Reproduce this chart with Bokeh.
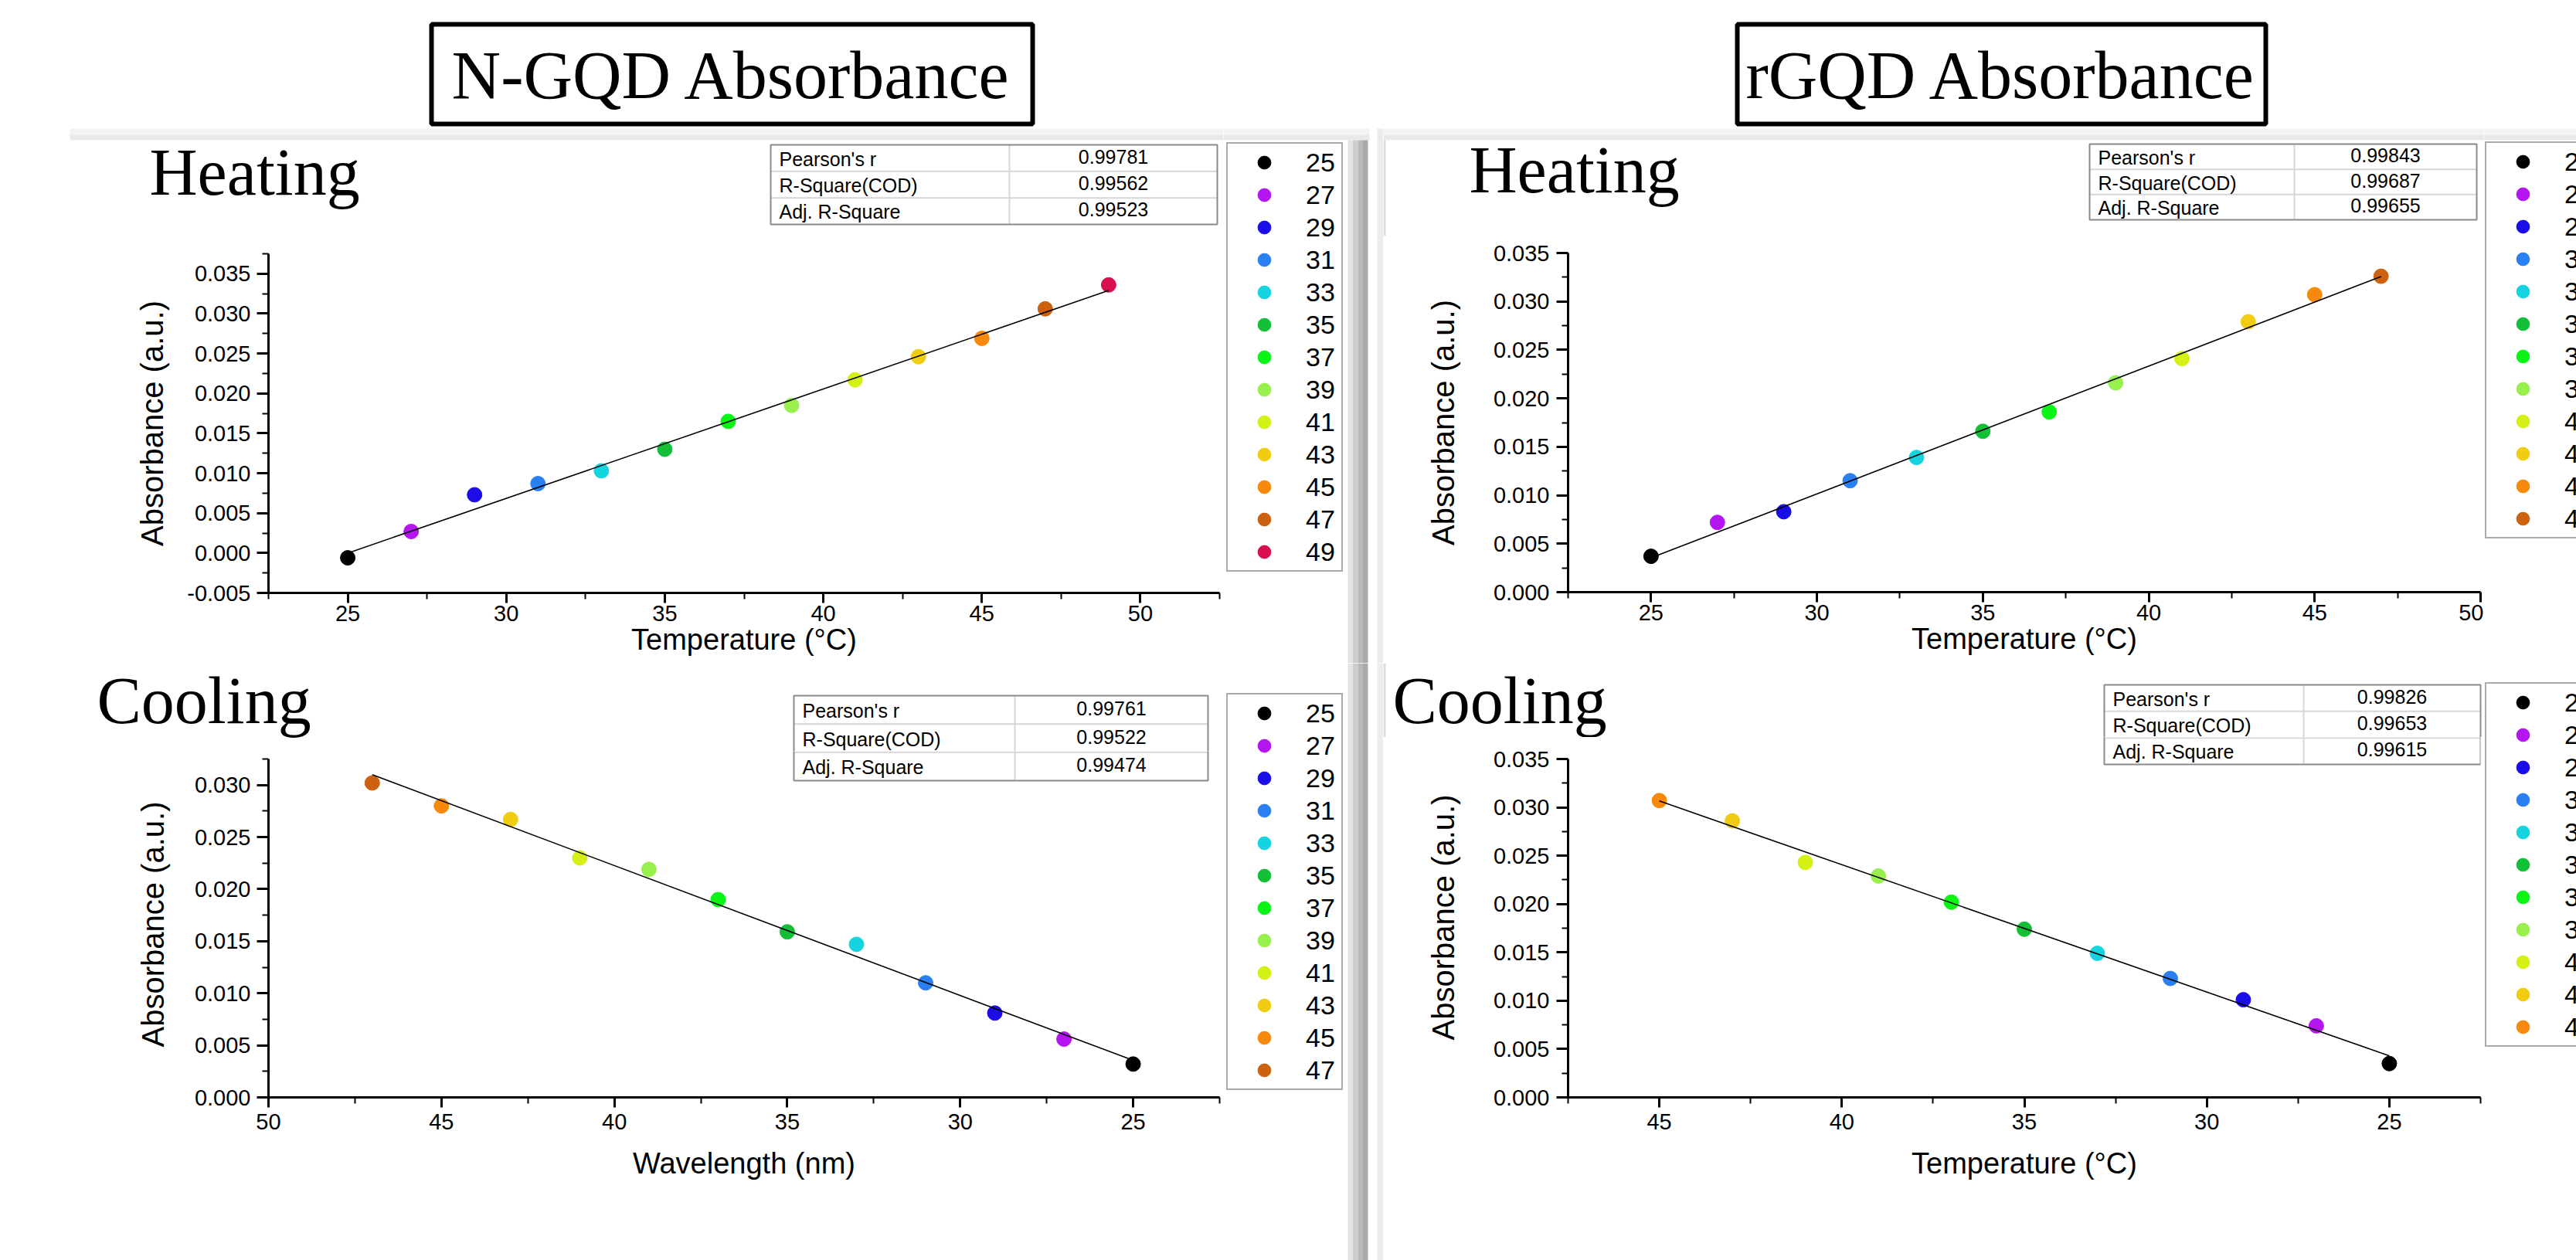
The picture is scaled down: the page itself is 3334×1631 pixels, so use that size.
import numpy as np
from bokeh.plotting import figure
from bokeh.models import (FixedTicker, PrintfTickFormatter, Legend, LegendItem,
                          BoxAnnotation, Label, Range1d, ColumnDataSource)
from bokeh.layouts import row, column
from bokeh.embed import file_html
from bokeh.resources import INLINE

# ---------------- data ----------------
ngqd_heat_temp = [25, 27, 29, 31, 33, 35, 37, 39, 41, 43, 45, 47, 49]
ngqd_heat_abs = [-0.0006, 0.0027, 0.0073, 0.0087, 0.0103, 0.0130, 0.0165,
                 0.0185, 0.0217, 0.0246, 0.0269, 0.0306, 0.0336]

ngqd_cool_temp = [25, 27, 29, 31, 33, 35, 37, 39, 41, 43, 45, 47]
ngqd_cool_abs = [0.0032, 0.0056, 0.0081, 0.0110, 0.0147, 0.0159, 0.0190,
                 0.0219, 0.0230, 0.0267, 0.0280, 0.0302]

rgqd_heat_temp = [25, 27, 29, 31, 33, 35, 37, 39, 41, 43, 45, 47]
rgqd_heat_abs = [0.0037, 0.0072, 0.0083, 0.0115, 0.0139, 0.0166, 0.0186,
                 0.0216, 0.0241, 0.0279, 0.0307, 0.0326]

rgqd_cool_temp = [25, 27, 29, 31, 33, 35, 37, 39, 41, 43, 45]
rgqd_cool_abs = [0.0035, 0.0074, 0.0101, 0.0123, 0.0149, 0.0174, 0.0202,
                 0.0229, 0.0243, 0.0286, 0.0307]

stat_names = ["Pearson's r", "R-Square(COD)", "Adj. R-Square"]
ngqd_heat_stats = ["0.99781", "0.99562", "0.99523"]
ngqd_cool_stats = ["0.99761", "0.99522", "0.99474"]
rgqd_heat_stats = ["0.99843", "0.99687", "0.99655"]
rgqd_cool_stats = ["0.99826", "0.99653", "0.99615"]

temp_colors = {25: "#000000", 27: "#b515f0", 29: "#1a0de8", 31: "#2a80f2",
               33: "#14d4e0", 35: "#14bf38", 37: "#0af516", 39: "#97f04c",
               41: "#d5f015", 43: "#f0cc12", 45: "#f7890d", 47: "#cc620f",
               49: "#d8104e"}

SANS = "Liberation Sans"
SERIF = "Liberation Serif"


def ticks(a, b, step):
    n = int(round((b - a) / step))
    return [round(a + i * step, 6) for i in range(n + 1)]


class Painter:
    """Places annotations at page-pixel positions, in screen units relative
    to the figure's frame (bottom-left corner at page (fl, fb))."""

    def __init__(self, p, fl, fb):
        self.p, self.fl, self.fb = p, fl, fb

    def X(self, x):
        return x - self.fl

    def Y(self, y):
        return self.fb - y

    def box(self, x0, y0, x1, y1, fill="white", line=None, lw=0, level="annotation"):
        self.p.add_layout(BoxAnnotation(
            left=self.X(x0), right=self.X(x1), top=self.Y(y0), bottom=self.Y(y1),
            left_units="screen", right_units="screen",
            top_units="screen", bottom_units="screen",
            fill_color=fill if fill else "white", fill_alpha=1 if fill else 0,
            line_color=line if line else "black", line_alpha=1 if line else 0,
            line_width=lw, level=level))

    def text(self, x, ymid, s, font, size, align="left"):
        self.p.add_layout(Label(
            x=self.X(x), y=self.Y(ymid), x_units="screen", y_units="screen",
            text=s, text_font=font, text_font_size=size, text_color="black",
            text_align=align, text_baseline="middle"))


def canvas_fig(x0, y0, x1, y1):
    p = figure(width=x1 - x0, height=y1 - y0, x_range=Range1d(0, 1),
               y_range=Range1d(0, 1), x_axis_type=None, y_axis_type=None,
               toolbar_location=None, output_backend="svg", min_border=0)
    p.frame_align = False
    p.outline_line_color = None
    p.background_fill_color = "white"
    p.border_fill_color = "white"
    return p, Painter(p, x0, y1)


def draw_table(pt, table, stats, text_rows=(0, 1, 2)):
    tx0, ty0, tx1, ty1, tsplit = table
    pt.box(tx0, ty0, tx1, ty1, fill="white")
    rh = (ty1 - ty0) / 3.0
    for i in (1, 2):
        yy = ty0 + i * rh
        pt.box(tx0, yy - 1, tx1, yy + 1, fill="#d6d6d6")
    pt.box(tsplit - 1, ty0, tsplit + 1, ty1, fill="#d6d6d6")
    pt.box(tx0, ty0, tx1, ty1, fill=None, line="#8a8a8a", lw=2)
    for i, (n, v) in enumerate(zip(stat_names, stats)):
        if i not in text_rows:
            continue
        mid = ty0 + (i + 0.5) * rh
        pt.text(tx0 + 11, mid + 1, n, SANS, "25px")
        pt.text((tsplit + tx1) / 2.0, mid - 2, v, SANS, "25px", align="center")


def draw_legend(p, pt, temps, absb, lx, ly):
    src = ColumnDataSource(dict(x=temps, y=absb, color=[temp_colors[t] for t in temps]))
    # legend swatches only: the points themselves lie outside this canvas's range
    r = p.scatter("x", "y", source=src, size=19, marker="circle",
                  fill_color="color", line_color="color")
    items = [LegendItem(label=str(t), renderers=[r], index=i) for i, t in enumerate(temps)]
    pad, gh = 3, 42
    height = 2 * pad + gh * len(items)
    leg = Legend(items=items, location=(pt.X(lx), pt.Y(ly + height)),
                 orientation="vertical", padding=pad, spacing=0, margin=0,
                 glyph_width=88, glyph_height=gh, label_height=gh,
                 label_width=43, label_standoff=10,
                 label_text_font=SANS, label_text_font_size="34px",
                 label_text_color="black",
                 border_line_color="#555555", border_line_width=2,
                 background_fill_color="white", background_fill_alpha=1)
    p.add_layout(leg)


def plot_fig(ox, oy, W, H, fx0, fx1, fy0, fy1, xr, yr, ybounds, xmaj, xmin, ymaj, ymin,
             temps, absb, xlabel, xl_s1, xl_s2, yl_s1, yl_s2):
    p = figure(width=W, height=H, x_range=Range1d(*xr), y_range=Range1d(*yr),
               output_backend="svg", toolbar_location=None,
               min_border_left=fx0 - ox, min_border_right=ox + W - fx1,
               min_border_top=fy0 - oy, min_border_bottom=oy + H - fy1)
    p.frame_align = False
    p.outline_line_color = None
    p.background_fill_color = "white"
    p.border_fill_color = "white"
    p.xgrid.visible = False
    p.ygrid.visible = False
    xa, ya = p.xaxis[0], p.yaxis[0]
    xa.ticker = FixedTicker(ticks=xmaj, minor_ticks=xmin)
    ya.ticker = FixedTicker(ticks=ymaj, minor_ticks=ymin)
    ya.bounds = ybounds
    xa.formatter = PrintfTickFormatter(format="%d")
    ya.formatter = PrintfTickFormatter(format="%.3f")
    for ax in (xa, ya):
        ax.axis_line_width = 3
        ax.axis_line_color = "black"
        ax.major_tick_line_width = 3
        ax.minor_tick_line_width = 2
        ax.major_tick_in = 0
        ax.minor_tick_out = 8
        ax.minor_tick_in = 0
        ax.major_label_text_font = SANS
        ax.major_label_text_font_size = "29px"
        ax.major_label_text_color = "black"
        ax.axis_label_text_font = SANS
        ax.axis_label_text_font_style = "normal"
        ax.axis_label_text_color = "black"
    xa.major_tick_out = 13
    ya.major_tick_out = 15
    xa.axis_label_text_font_size = "38px"
    ya.axis_label_text_font_size = "40px"
    xa.axis_label = xlabel
    ya.axis_label = "Absorbance (a.u.)"
    xa.major_label_standoff = xl_s1
    xa.axis_label_standoff = xl_s2
    ya.major_label_standoff = yl_s1
    ya.axis_label_standoff = yl_s2

    src = ColumnDataSource(dict(x=temps, y=absb, color=[temp_colors[t] for t in temps]))
    p.scatter("x", "y", source=src, size=19, marker="circle",
              fill_color="color", line_color="color")
    k, b0 = np.polyfit(np.array(temps, float), np.array(absb, float), 1)
    ends = [min(temps), max(temps)]
    p.line(ends, [k * v + b0 for v in ends], line_color="black", line_width=1.6)
    return p, Painter(p, fx0, fy1)


TOP_BAND = "#f3f3f3"
TOP_BAND2 = "#e9e9e9"
SH = ["#e4e4e4", "#cdcdcd", "#b9b9b9", "#aaaaaa"]
SPLIT = 858          # page row where the heating block ends and cooling block begins

# ================= N-GQD (left) =================
lt_tab = (997, 187, 1575, 290, 1306)
lb_tab = (1027, 900, 1563, 1010, 1313)
LB_TOP = 972
lb_yend = 0.0325 * (1420 - LB_TOP) / (1420 - 982)

lt_head, pt = canvas_fig(0, 0, 1583, 305)
pt.box(90, 166, 1583, 174, fill=TOP_BAND)
pt.box(90, 174, 1583, 181, fill=TOP_BAND2)
pt.box(558, 31, 1336, 160, fill="white", line="black", lw=6)
pt.text(947, 97, "N-GQD Absorbance", SERIF, "88px", align="center")
pt.text(193, 222, "Heating", SERIF, "86px")
draw_table(pt, lt_tab, ngqd_heat_stats)

lt_plot, pt = plot_fig(0, 305, 1583, SPLIT - 305, 347, 1578, 328, 767,
                       (22.5, 52.5), (-0.005, 0.0375), (-0.005, 0.0375),
                       ticks(25, 50, 5), ticks(22.5, 52.5, 5),
                       ticks(-0.005, 0.035, 0.005), ticks(-0.0025, 0.0375, 0.005),
                       ngqd_heat_temp, ngqd_heat_abs,
                       "Temperature (\u00b0C)", 3, 0, 8, 20)

lt_side, pt = canvas_fig(1583, 0, 1790, SPLIT)
pt.box(1583, 166, 1772, 174, fill=TOP_BAND)
pt.box(1583, 174, 1772, 181, fill=TOP_BAND2)
for i, c in enumerate(SH):
    pt.box(1744 + 6.5 * i, 181, 1750.5 + 6.5 * i, SPLIT, fill=c)
pt.box(1782, 166, 1790, SPLIT, fill="#ececec")
draw_legend(lt_side, pt, ngqd_heat_temp, ngqd_heat_abs, 1587, 188)

lb_head, pt = canvas_fig(0, SPLIT, 1583, LB_TOP)
pt.text(125, 906, "Cooling", SERIF, "86px")
draw_table(pt, lb_tab, ngqd_cool_stats, text_rows=(0, 1))

lb_plot, pt = plot_fig(0, LB_TOP, 1583, 1631 - LB_TOP, 347, 1578, LB_TOP, 1420,
                       (50, 22.5), (0, lb_yend), (0, 0.0325),
                       ticks(25, 50, 5)[::-1], ticks(22.5, 47.5, 5),
                       ticks(0, 0.030, 0.005), ticks(0.0025, 0.0325, 0.005),
                       ngqd_cool_temp, ngqd_cool_abs,
                       "Wavelength (nm)", 8, 20, 8, 29)
draw_table(pt, lb_tab, ngqd_cool_stats, text_rows=(2,))

lb_side, pt = canvas_fig(1583, SPLIT, 1790, 1631)
for i, c in enumerate(SH):
    pt.box(1744 + 6.5 * i, SPLIT, 1750.5 + 6.5 * i, 1631, fill=c)
pt.box(1782, SPLIT, 1790, 1631, fill="#ececec")
draw_legend(lb_side, pt, ngqd_cool_temp, ngqd_cool_abs, 1587, 901)

# ================= rGQD (right) =================
rt_tab = (2704, 186, 3205, 284, 2969)
rb_tab = (2723, 886, 3210, 989, 2981)
RB_TOP = 954
rb_yend = 0.035 * (1420 - RB_TOP) / (1420 - 982)

rt_head, pt = canvas_fig(1790, 0, 3214, 305)
pt.box(1790, 166, 3214, 174, fill=TOP_BAND)
pt.box(1790, 174, 3214, 181, fill=TOP_BAND2)
pt.box(1790, 181, 1793, 305, fill="#dcdcdc")
pt.box(2248, 31, 2932, 160, fill="white", line="black", lw=6)
pt.text(2590, 97, "rGQD Absorbance", SERIF, "88px", align="center")
pt.text(1901, 219, "Heating", SERIF, "86px")
draw_table(pt, rt_tab, rgqd_heat_stats)

rt_plot, pt = plot_fig(1790, 305, 1424, SPLIT - 305, 2029, 3210, 327, 766,
                       (22.5, 50), (0, 0.035), (0, 0.035),
                       ticks(25, 50, 5), ticks(22.5, 47.5, 5),
                       ticks(0, 0.035, 0.005), ticks(0.0025, 0.0325, 0.005),
                       rgqd_heat_temp, rgqd_heat_abs,
                       "Temperature (\u00b0C)", 3, 0, 9, 40)

rt_side, pt = canvas_fig(3214, 0, 3334, SPLIT)
pt.box(3214, 166, 3334, 174, fill=TOP_BAND)
pt.box(3214, 174, 3334, 181, fill=TOP_BAND2)
draw_legend(rt_side, pt, rgqd_heat_temp, rgqd_heat_abs, 3216, 187)

rb_head, pt = canvas_fig(1790, SPLIT, 3214, RB_TOP)
pt.box(1790, SPLIT, 1793, RB_TOP, fill="#dcdcdc")
pt.text(1802, 906, "Cooling", SERIF, "86px")
draw_table(pt, rb_tab, rgqd_cool_stats, text_rows=(0, 1))

rb_plot, pt = plot_fig(1790, RB_TOP, 1424, 1631 - RB_TOP, 2029, 3210, RB_TOP, 1420,
                       (47.5, 22.5), (0, rb_yend), (0, 0.035),
                       ticks(25, 45, 5), ticks(22.5, 47.5, 5),
                       ticks(0, 0.035, 0.005), ticks(0.0025, 0.0325, 0.005),
                       rgqd_cool_temp, rgqd_cool_abs,
                       "Temperature (\u00b0C)", 8, 20, 9, 40)
draw_table(pt, rb_tab, rgqd_cool_stats, text_rows=(2,))

rb_side, pt = canvas_fig(3214, SPLIT, 3334, 1631)
draw_legend(rb_side, pt, rgqd_cool_temp, rgqd_cool_abs, 3216, 887)

left = column(row(column(lt_head, lt_plot), lt_side),
              row(column(lb_head, lb_plot), lb_side))
right = column(row(column(rt_head, rt_plot), rt_side),
               row(column(rb_head, rb_plot), rb_side))
layout = row(left, right)
open("out.html", "w").write(file_html(layout, INLINE, title="Absorbance"))
